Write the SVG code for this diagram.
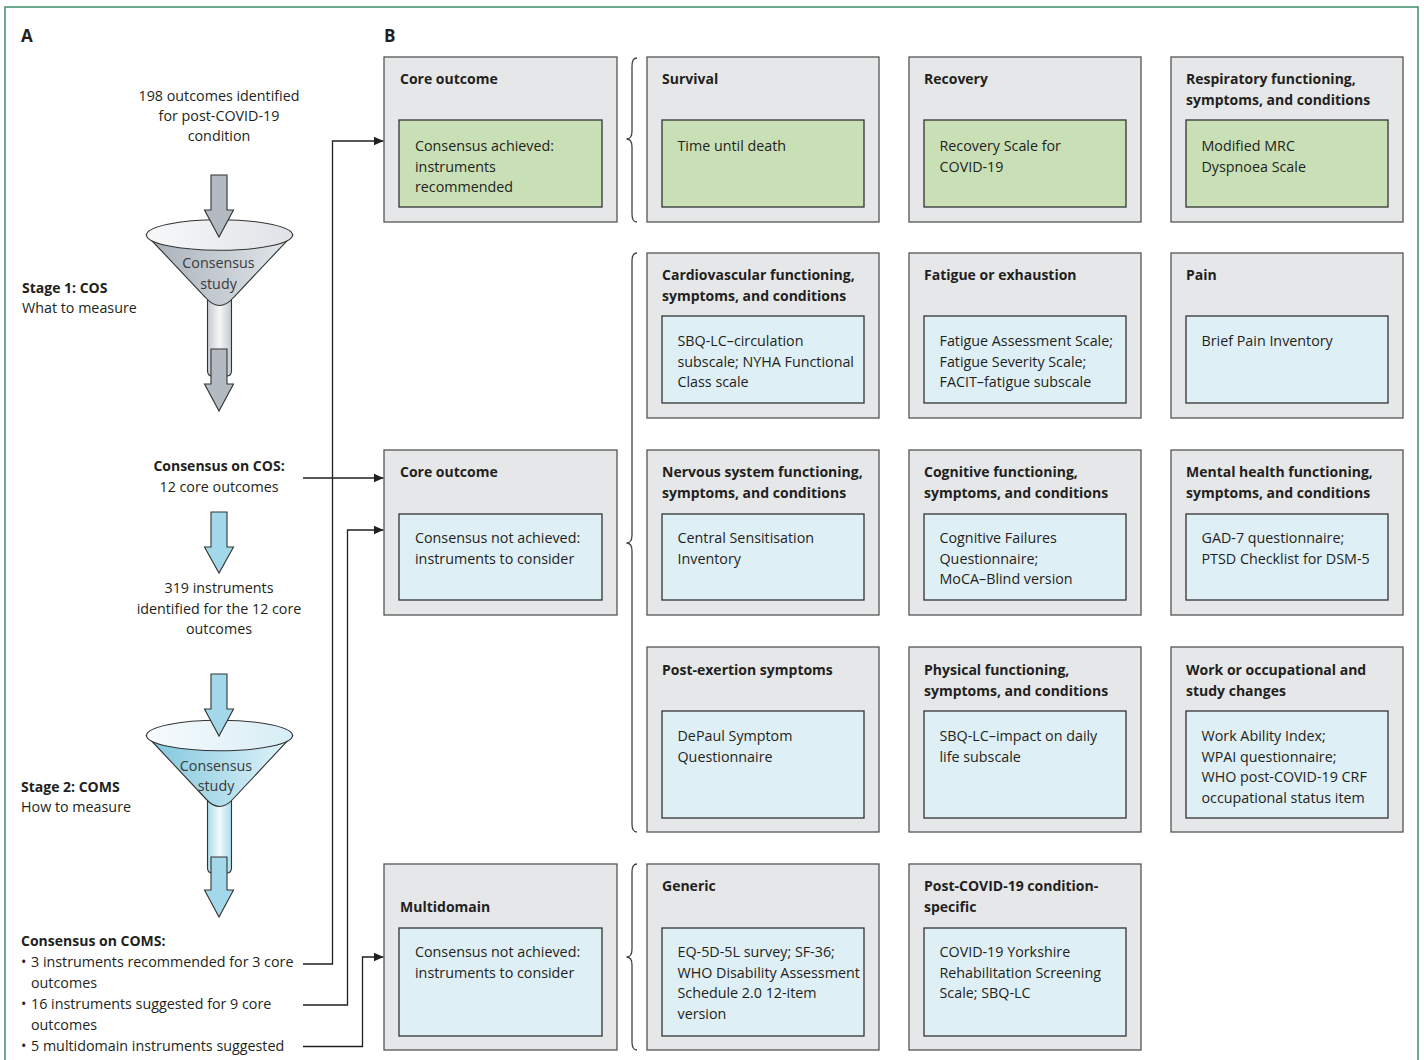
<svg xmlns="http://www.w3.org/2000/svg" width="1424" height="1060" viewBox="0 0 1424 1060">
<defs>
<style>
text{font-family:"Open Sans","Liberation Sans",sans-serif;font-size:14.3px;fill:#231f20}
.b{font-weight:bold;font-size:14px}
.h{font-weight:bold;font-size:17px}
.fn{fill:#3a3a3a;font-size:14.3px}
.outer{fill:#e6e7e9;stroke:#555;stroke-width:1.3}
.g{fill:#c9dfb5;stroke:#333;stroke-width:1.3}
.bl{fill:#dfeff6;stroke:#333;stroke-width:1.3}
.con{fill:none;stroke:#231f20;stroke-width:1.3}
.brace{fill:none;stroke:#444;stroke-width:1.3}
.ga{fill:#b3bac1;stroke:#333;stroke-width:1.1}
.ba{fill:#a3d8ea;stroke:#333;stroke-width:1.1}
.fo{stroke:#333;stroke-width:1.1}
</style>
<marker id="ah" markerUnits="userSpaceOnUse" markerWidth="11" markerHeight="10" refX="10" refY="4.5" orient="auto">
<path d="M0,0 L10,4.5 L0,9 Z" fill="#231f20"/>
</marker>
<linearGradient id="gCone" x1="0" y1="0" x2="1" y2="0">
<stop offset="0" stop-color="#a7afb8"/><stop offset="1" stop-color="#e3e8ec"/>
</linearGradient>
<linearGradient id="gTop" x1="0" y1="0" x2="1" y2="0">
<stop offset="0" stop-color="#f7f8f9"/><stop offset="1" stop-color="#dfe3e7"/>
</linearGradient>
<linearGradient id="gTube" x1="0" y1="0" x2="1" y2="0">
<stop offset="0" stop-color="#c3c9cf"/><stop offset="0.5" stop-color="#f5f6f7"/><stop offset="1" stop-color="#c3c9cf"/>
</linearGradient>
<linearGradient id="bCone" x1="0" y1="0" x2="1" y2="0">
<stop offset="0" stop-color="#7fc6dd"/><stop offset="1" stop-color="#e3f4fa"/>
</linearGradient>
<linearGradient id="bTop" x1="0" y1="0" x2="1" y2="0">
<stop offset="0" stop-color="#f7fbfd"/><stop offset="1" stop-color="#d7edf5"/>
</linearGradient>
<linearGradient id="bTube" x1="0" y1="0" x2="1" y2="0">
<stop offset="0" stop-color="#a9dbeb"/><stop offset="0.5" stop-color="#f2fafc"/><stop offset="1" stop-color="#a9dbeb"/>
</linearGradient>
</defs>
<rect width="1424" height="1060" fill="#ffffff"/>
<rect x="5" y="7" width="1413" height="1080" fill="none" stroke="#3f8d69" stroke-width="1.5"/>

<text class="h" x="21" y="42">A</text>
<text class="h" x="384" y="42">B</text>

<g id="panelA">
<text text-anchor="middle"><tspan x="219" y="101">198 outcomes identified</tspan><tspan x="219" y="121">for post-COVID-19</tspan><tspan x="219" y="141">condition</tspan></text>
<text x="22" y="293" class="b">Stage 1: COS</text>
<text x="22" y="313">What to measure</text>

<g id="funnel1">
<path class="fo" fill="url(#gTube)" d="M207.5,298 L207.5,371 Q207.5,376 212.5,376 L226.5,376 Q231.5,376 231.5,371 L231.5,298 Z"/>
<path class="fo" fill="url(#gCone)" d="M146.5,235 L206,298 Q219.5,313 233,298 L292.5,235 Z"/>
<ellipse class="fo" fill="url(#gTop)" cx="219.5" cy="235" rx="73" ry="15.3"/>
<path class="ga" d="M211,175 L227,175 L227,210 L233.5,210 L219,237 L204.5,210 L211,210 Z"/>
<text class="fn" text-anchor="middle"><tspan x="218.5" y="268">Consensus</tspan><tspan x="218.5" y="289">study</tspan></text>
<path class="ga" d="M211,349 L227,349 L227,384 L233.5,384 L219,411 L204.5,384 L211,384 Z"/>
</g>

<text text-anchor="middle"><tspan class="b" x="219" y="471">Consensus on COS:</tspan><tspan x="219" y="492">12 core outcomes</tspan></text>
<path class="ba" d="M211,512 L227,512 L227,547 L233.5,547 L219,573 L204.5,547 L211,547 Z"/>
<text text-anchor="middle"><tspan x="219" y="593">319 instruments</tspan><tspan x="219" y="614">identified for the 12 core</tspan><tspan x="219" y="634">outcomes</tspan></text>

<g id="funnel2">
<path class="fo" fill="url(#bTube)" d="M207.5,800 L207.5,868 Q207.5,873 212.5,873 L226.5,873 Q231.5,873 231.5,868 L231.5,800 Z"/>
<path class="fo" fill="url(#bCone)" d="M146.5,735.5 L206,799 Q219.5,814 233,799 L292.5,735.5 Z"/>
<ellipse class="fo" fill="url(#bTop)" cx="219.5" cy="735.5" rx="73" ry="15.3"/>
<path class="ba" d="M211,674 L227,674 L227,709 L233.5,709 L219,736 L204.5,709 L211,709 Z"/>
<text class="fn" text-anchor="middle"><tspan x="216" y="771">Consensus</tspan><tspan x="216" y="791">study</tspan></text>
<path class="ba" d="M211,857 L227,857 L227,890 L233.5,890 L219,917 L204.5,890 L211,890 Z"/>
</g>

<text x="21" y="792" class="b">Stage 2: COMS</text>
<text x="21" y="812">How to measure</text>
<text x="21" y="946" class="b">Consensus on COMS:</text>
<text x="21" y="967">•</text><text x="31" y="967">3 instruments recommended for 3 core</text>
<text x="31" y="988">outcomes</text>
<text x="21" y="1009">•</text><text x="31" y="1009">16 instruments suggested for 9 core</text>
<text x="31" y="1030">outcomes</text>
<text x="21" y="1051">•</text><text x="31" y="1051">5 multidomain instruments suggested</text>
</g>

<g id="connectors">
<path class="con" d="M303,964 L332.5,964 L332.5,141 L383.5,141" marker-end="url(#ah)"/>
<path class="con" d="M303,478 L383.5,478" marker-end="url(#ah)"/>
<path class="con" d="M303,1005 L347.5,1005 L347.5,530 L383.5,530" marker-end="url(#ah)"/>
<path class="con" d="M303,1046.5 L362.5,1046.5 L362.5,957 L383.5,957" marker-end="url(#ah)"/>
</g>

<g id="braces">
<path class="brace" d="M637,58 Q632,58 632,66 L632,131 Q632,139 626.5,139 Q632,139 632,147 L632,214 Q632,222 637,222"/>
<path class="brace" d="M637,253 Q632,253 632,261 L632,535 Q632,543 626.5,543 Q632,543 632,551 L632,824 Q632,832 637,832"/>
<path class="brace" d="M637,864 Q632,864 632,872 L632,949 Q632,957 626.5,957 Q632,957 632,965 L632,1042 Q632,1050 637,1050"/>
</g>

<!-- Row 1 -->
<g id="core-achieved">
<rect class="outer" x="384" y="57" width="233" height="165"/>
<text class="b" x="400" y="84">Core outcome</text>
<rect class="g" x="399" y="120" width="203" height="87"/>
<text><tspan x="415" y="151">Consensus achieved:</tspan><tspan x="415" y="171.5">instruments</tspan><tspan x="415" y="192">recommended</tspan></text>
</g>
<g id="survival">
<rect class="outer" x="647" y="57" width="232" height="165"/>
<text class="b" x="662" y="84">Survival</text>
<rect class="g" x="662" y="120" width="202" height="87"/>
<text x="677.5" y="151">Time until death</text>
</g>
<g id="recovery">
<rect class="outer" x="909" y="57" width="232" height="165"/>
<text class="b" x="924" y="84">Recovery</text>
<rect class="g" x="924" y="120" width="202" height="87"/>
<text><tspan x="939.5" y="151">Recovery Scale for</tspan><tspan x="939.5" y="171.5">COVID-19</tspan></text>
</g>
<g id="respiratory">
<rect class="outer" x="1171" y="57" width="232" height="165"/>
<text class="b"><tspan x="1186" y="84">Respiratory functioning,</tspan><tspan x="1186" y="105">symptoms, and conditions</tspan></text>
<rect class="g" x="1186" y="120" width="202" height="87"/>
<text><tspan x="1201.5" y="151">Modified MRC</tspan><tspan x="1201.5" y="171.5">Dyspnoea Scale</tspan></text>
</g>

<!-- Row 2 -->
<g id="cardiovascular">
<rect class="outer" x="647" y="253" width="232" height="165"/>
<text class="b"><tspan x="662" y="280">Cardiovascular functioning,</tspan><tspan x="662" y="301">symptoms, and conditions</tspan></text>
<rect class="bl" x="662" y="316" width="202" height="87"/>
<text><tspan x="677.5" y="346">SBQ-LC–circulation</tspan><tspan x="677.5" y="366.5">subscale; NYHA Functional</tspan><tspan x="677.5" y="387">Class scale</tspan></text>
</g>
<g id="fatigue">
<rect class="outer" x="909" y="253" width="232" height="165"/>
<text class="b" x="924" y="280">Fatigue or exhaustion</text>
<rect class="bl" x="924" y="316" width="202" height="87"/>
<text><tspan x="939.5" y="346">Fatigue Assessment Scale;</tspan><tspan x="939.5" y="366.5">Fatigue Severity Scale;</tspan><tspan x="939.5" y="387">FACIT–fatigue subscale</tspan></text>
</g>
<g id="pain">
<rect class="outer" x="1171" y="253" width="232" height="165"/>
<text class="b" x="1186" y="280">Pain</text>
<rect class="bl" x="1186" y="316" width="202" height="87"/>
<text x="1201.5" y="346">Brief Pain Inventory</text>
</g>

<!-- Row 3 -->
<g id="core-not-achieved">
<rect class="outer" x="384" y="450" width="233" height="165"/>
<text class="b" x="400" y="477">Core outcome</text>
<rect class="bl" x="399" y="514" width="203" height="86"/>
<text><tspan x="415" y="543">Consensus not achieved:</tspan><tspan x="415" y="563.5">instruments to consider</tspan></text>
</g>
<g id="nervous">
<rect class="outer" x="647" y="450" width="232" height="165"/>
<text class="b"><tspan x="662" y="477">Nervous system functioning,</tspan><tspan x="662" y="498">symptoms, and conditions</tspan></text>
<rect class="bl" x="662" y="514" width="202" height="86"/>
<text><tspan x="677.5" y="543">Central Sensitisation</tspan><tspan x="677.5" y="563.5">Inventory</tspan></text>
</g>
<g id="cognitive">
<rect class="outer" x="909" y="450" width="232" height="165"/>
<text class="b"><tspan x="924" y="477">Cognitive functioning,</tspan><tspan x="924" y="498">symptoms, and conditions</tspan></text>
<rect class="bl" x="924" y="514" width="202" height="86"/>
<text><tspan x="939.5" y="543">Cognitive Failures</tspan><tspan x="939.5" y="563.5">Questionnaire;</tspan><tspan x="939.5" y="584">MoCA–Blind version</tspan></text>
</g>
<g id="mental">
<rect class="outer" x="1171" y="450" width="232" height="165"/>
<text class="b"><tspan x="1186" y="477">Mental health functioning,</tspan><tspan x="1186" y="498">symptoms, and conditions</tspan></text>
<rect class="bl" x="1186" y="514" width="202" height="86"/>
<text><tspan x="1201.5" y="543">GAD-7 questionnaire;</tspan><tspan x="1201.5" y="563.5">PTSD Checklist for DSM-5</tspan></text>
</g>

<!-- Row 4 -->
<g id="post-exertion">
<rect class="outer" x="647" y="647" width="232" height="185"/>
<text class="b" x="662" y="675">Post-exertion symptoms</text>
<rect class="bl" x="662" y="711" width="202" height="107"/>
<text><tspan x="677.5" y="741">DePaul Symptom</tspan><tspan x="677.5" y="761.5">Questionnaire</tspan></text>
</g>
<g id="physical">
<rect class="outer" x="909" y="647" width="232" height="185"/>
<text class="b"><tspan x="924" y="675">Physical functioning,</tspan><tspan x="924" y="696">symptoms, and conditions</tspan></text>
<rect class="bl" x="924" y="711" width="202" height="107"/>
<text><tspan x="939.5" y="741">SBQ-LC–impact on daily</tspan><tspan x="939.5" y="761.5">life subscale</tspan></text>
</g>
<g id="work">
<rect class="outer" x="1171" y="647" width="232" height="185"/>
<text class="b"><tspan x="1186" y="675">Work or occupational and</tspan><tspan x="1186" y="696">study changes</tspan></text>
<rect class="bl" x="1186" y="711" width="202" height="107"/>
<text><tspan x="1201.5" y="741">Work Ability Index;</tspan><tspan x="1201.5" y="761.5">WPAI questionnaire;</tspan><tspan x="1201.5" y="782">WHO post-COVID-19 CRF</tspan><tspan x="1201.5" y="802.5">occupational status item</tspan></text>
</g>

<!-- Row 5 -->
<g id="multidomain">
<rect class="outer" x="384" y="864" width="233" height="186"/>
<text class="b" x="400" y="912">Multidomain</text>
<rect class="bl" x="399" y="928" width="203" height="108"/>
<text><tspan x="415" y="957">Consensus not achieved:</tspan><tspan x="415" y="977.5">instruments to consider</tspan></text>
</g>
<g id="generic">
<rect class="outer" x="647" y="864" width="232" height="186"/>
<text class="b" x="662" y="891">Generic</text>
<rect class="bl" x="662" y="928" width="202" height="108"/>
<text><tspan x="677.5" y="957">EQ-5D-5L survey; SF-36;</tspan><tspan x="677.5" y="977.5">WHO Disability Assessment</tspan><tspan x="677.5" y="998">Schedule 2.0 12-item</tspan><tspan x="677.5" y="1018.5">version</tspan></text>
</g>
<g id="condition-specific">
<rect class="outer" x="909" y="864" width="232" height="186"/>
<text class="b"><tspan x="924" y="891">Post-COVID-19 condition-</tspan><tspan x="924" y="912">specific</tspan></text>
<rect class="bl" x="924" y="928" width="202" height="108"/>
<text><tspan x="939.5" y="957">COVID-19 Yorkshire</tspan><tspan x="939.5" y="977.5">Rehabilitation Screening</tspan><tspan x="939.5" y="998">Scale; SBQ-LC</tspan></text>
</g>
</svg>
